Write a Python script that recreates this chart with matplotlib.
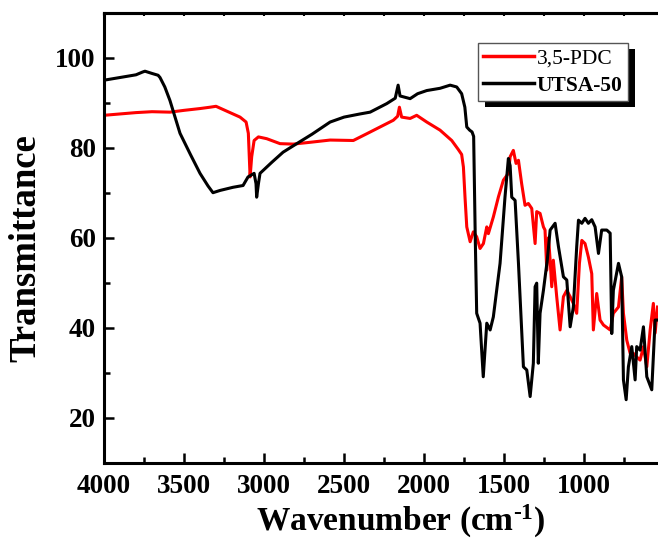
import matplotlib
matplotlib.use('Agg')
import matplotlib.pyplot as plt
from matplotlib.patches import Rectangle
from matplotlib.ticker import MultipleLocator, NullFormatter
from matplotlib.transforms import IdentityTransform

# ---------------- data ----------------
pdc_wn = [4000, 3900, 3800, 3700, 3588, 3500, 3400, 3337, 3300, 3244, 3150, 3112,
          3098, 3087, 3077, 3062, 3035, 2983, 2900, 2818, 2712, 2587, 2442, 2358,
          2275, 2192, 2165, 2154, 2140, 2087, 2046, 1983, 1900, 1827, 1786, 1765,
          1754, 1744, 1733, 1712, 1692, 1671, 1650, 1629, 1608, 1598, 1567, 1535,
          1504, 1473, 1462, 1442, 1425, 1410, 1390, 1369, 1348, 1327, 1306, 1296,
          1275, 1254, 1244, 1233, 1222, 1212, 1202, 1192, 1171, 1150, 1129, 1108,
          1087, 1067, 1046, 1029, 1014, 994, 973, 952, 942, 921, 900, 879, 837,
          817, 785, 765, 754, 733, 712, 692, 671, 650, 629, 608, 587, 567, 556, 541]
pdc_t = [87.2, 87.5, 87.8, 88.0, 87.9, 88.3, 88.7, 89.0, 89.2, 88.3, 86.8, 85.7,
         83.2, 73.5, 78.0, 81.6, 82.4, 82.0, 80.9, 80.8, 81.2, 81.7, 81.6, 83.1,
         84.6, 86.1, 87.0, 89.0, 86.8, 86.5, 87.2, 85.7, 83.9, 81.6, 79.6, 78.5,
         75.7, 69.0, 62.4, 59.1, 61.3, 60.2, 57.6, 58.7, 62.4, 60.9, 64.6, 69.1,
         72.8, 74.3, 78.0, 79.4, 76.5, 77.2, 72.0, 67.2, 67.6, 66.5, 58.7, 65.8,
         65.4, 62.4, 61.7, 52.8, 60.0, 55.0, 49.1, 55.0, 46.9, 39.5, 46.9, 48.3,
         46.9, 45.4, 43.2, 54.3, 59.4, 58.7, 55.7, 52.0, 39.5, 47.6, 41.7, 40.6, 39.5,
         43.2, 44.6, 51.3, 43.2, 37.2, 34.3, 34.3, 33.5, 32.8, 35.8, 31.3, 39.5, 45.4, 38.8, 44.6]

utsa_wn = [4000, 3950, 3900, 3850, 3800, 3760, 3744, 3700, 3662, 3650, 3620, 3588,
           3525, 3460, 3400, 3350, 3319, 3275, 3194, 3131, 3100, 3062, 3050, 3046,
           3035, 3025, 2950, 2881, 2800, 2700, 2587, 2500, 2400, 2337, 2233, 2180,
           2162, 2150, 2087, 2040, 1983, 1900, 1837, 1796, 1765, 1745, 1733, 1715,
           1700, 1690, 1680, 1671, 1650, 1630, 1608, 1587, 1567, 1525, 1494, 1473,
           1462, 1452, 1431, 1410, 1379, 1358, 1337, 1317, 1306, 1296, 1286, 1275,
           1254, 1230, 1212, 1181, 1160, 1129, 1108, 1087, 1067, 1046, 1035, 1014,
           994, 973, 952, 931, 910, 890, 858, 837, 827, 817, 785, 765, 754, 737,
           723, 702, 681, 671, 650, 629, 608, 577, 556, 540]
utsa_t = [95.0, 95.3, 95.6, 95.9, 96.2, 96.8, 97.0, 96.5, 96.1, 95.6, 93.5, 90.5,
          83.2, 78.5, 74.3, 71.5, 70.0, 70.5, 71.2, 71.6, 73.5, 74.3, 72.0, 69.0,
          72.0, 74.3, 76.8, 79.0, 80.8, 83.0, 85.7, 86.8, 87.5, 87.9, 89.8, 91.0,
          93.9, 91.5, 90.9, 92.0, 92.7, 93.2, 93.9, 93.5, 92.0, 89.0, 84.6, 83.9,
          83.5, 82.5, 60.0, 43.2, 41.0, 29.1, 41.0, 39.5, 42.4, 54.3, 69.1, 77.6,
          76.0, 69.0, 68.3, 54.3, 31.3, 30.6, 24.7, 32.1, 49.1, 49.9, 32.1, 43.2,
          48.3, 55.0, 61.7, 63.2, 58.0, 51.3, 50.6, 40.2, 44.6, 58.0, 63.9, 63.2,
          64.3, 63.2, 64.0, 62.4, 56.5, 61.7, 61.7, 61.0, 38.7, 48.3, 54.3, 51.3, 28.4, 24.0,
          31.3, 35.8, 28.4, 35.8, 35.0, 40.2, 29.1, 26.2, 41.7, 41.7]

labels = ['3,5-PDC', 'UTSA-50']
colors = ['#ff0000', '#000000']
x_ticks = [4000, 3500, 3000, 2500, 2000, 1500, 1000]
y_ticks = [20, 40, 60, 80, 100]

# ---------------- style ----------------
plt.rcParams['font.family'] = ['Liberation Serif', 'DejaVu Serif']
plt.rcParams['font.weight'] = 'bold'
plt.rcParams['mathtext.fontset'] = 'custom'
plt.rcParams['mathtext.rm'] = 'Liberation Serif:bold'
plt.rcParams['mathtext.bf'] = 'Liberation Serif:bold'
plt.rcParams['mathtext.it'] = 'Liberation Serif:bold'

W, H = 658, 541
fig = plt.figure(figsize=(W / 100, H / 100), dpi=100)
L, R, T, B = 104, 658, 12.7, 462.7
ax = fig.add_axes([L / W, 1 - B / H, (R - L) / W, (B - T) / H])

ax.plot(pdc_wn, pdc_t, color=colors[0], lw=2.2, label=labels[0])
ax.plot(utsa_wn, utsa_t, color=colors[1], lw=2.2, label=labels[1])

ax.set_xlim(4000, 538)
ax.set_ylim(10, 110)
ax.set_xticks(x_ticks)
ax.set_yticks(y_ticks)
ax.xaxis.set_minor_locator(MultipleLocator(250))
ax.yaxis.set_minor_locator(MultipleLocator(10))

for s in ['left', 'bottom', 'top']:
    ax.spines[s].set_linewidth(2.2)
ax.spines['right'].set_visible(False)

ax.tick_params(which='major', direction='in', length=7.5, width=1.8,
               labelsize=19.5, pad=6)
ax.tick_params(which='minor', direction='in', length=4.5, width=1.8)
ax.tick_params(axis='x', which='major', pad=8)
ax.tick_params(top=False, right=False)

sec = ax.secondary_xaxis('top')
sec.xaxis.set_major_locator(MultipleLocator(250))
sec.xaxis.set_major_formatter(NullFormatter())
sec.tick_params(direction='in', length=2.5, width=1.5)
sec.spines['top'].set_linewidth(2.2)

ax.set_xlabel(r'Wavenumber (cm$^{\text{-1}}$)', fontsize=24, fontweight='bold')
ax.set_ylabel('Transmittance', fontsize=26.5, fontweight='bold')
ax.xaxis.set_label_coords((401 - L) / (R - L), (B - 503) / (B - T))
ax.yaxis.set_label_coords((43 - L) / (R - L), (B - 248) / (B - T))

leg = ax.legend(loc='upper left', bbox_to_anchor=(477.7 / W, 1 - 42.7 / H),
                bbox_transform=fig.transFigure, fontsize=15.5, frameon=True,
                fancybox=False, edgecolor='#555555', framealpha=1,
                handlelength=2.35, handletextpad=0.15, borderpad=0.25,
                labelspacing=0.35, borderaxespad=0)
leg.get_frame().set_linewidth(1.0)
leg.get_texts()[0].set_fontweight('normal')
leg.get_texts()[1].set_fontweight('bold')
for h in leg.get_lines():
    h.set_linewidth(2.5)
leg.set_zorder(10)

fig.canvas.draw()
bb = leg.get_window_extent()
shadow = Rectangle((bb.x0 + 7, bb.y0 - 6), bb.width, bb.height,
                   transform=IdentityTransform(), facecolor='black',
                   edgecolor='none', zorder=9, clip_on=False)
ax.add_patch(shadow)

fig.savefig('out.png', dpi=100)
